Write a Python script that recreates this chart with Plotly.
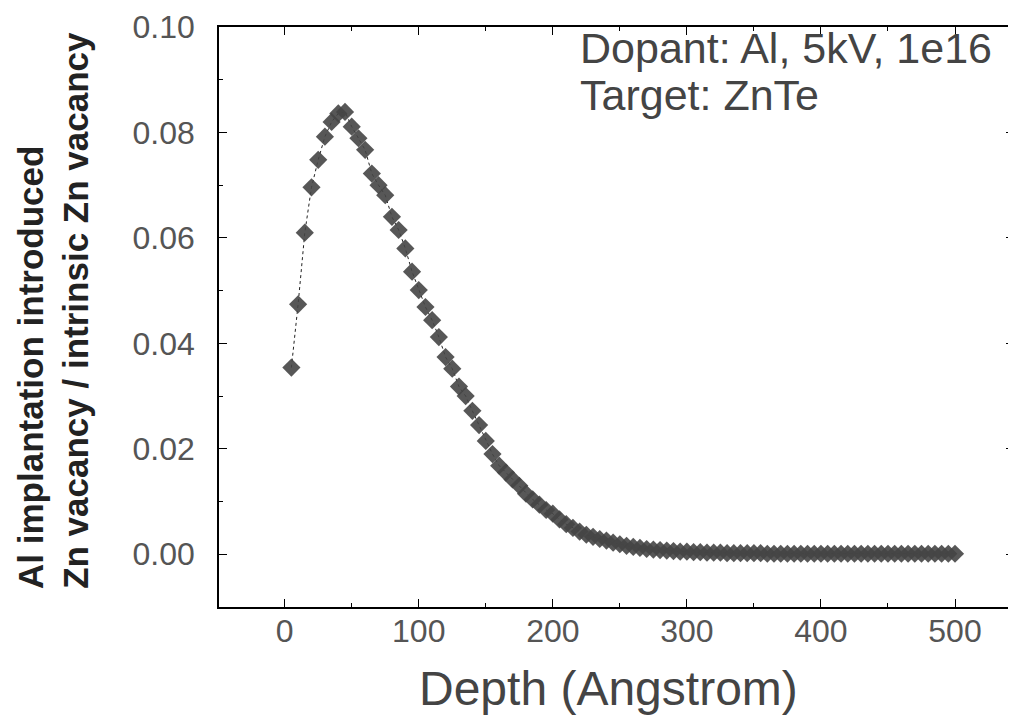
import plotly.graph_objects as go

depth = list(range(5, 505, 5))
ratio = [
    0.0354, 0.0474, 0.0610, 0.0696, 0.0748, 0.0792, 0.0820, 0.0836, 0.0839, 0.0811,
    0.0789, 0.0767, 0.0722, 0.0700, 0.0681, 0.0640, 0.0615, 0.0580, 0.0536, 0.0501,
    0.0469, 0.0444, 0.0412, 0.0374, 0.0352, 0.0318, 0.0300, 0.0272, 0.0245, 0.0215,
    0.0190, 0.0168, 0.0155, 0.0142, 0.0130, 0.0115, 0.0104, 0.0094, 0.0084, 0.0077,
    0.0066, 0.0057, 0.0050, 0.0043, 0.0037, 0.0033, 0.0029, 0.0026, 0.0022, 0.0019,
    0.0016, 0.0014, 0.0012, 0.0010, 0.0009, 0.0008, 0.0007, 0.0006, 0.0005, 0.0005,
    0.0004, 0.0004, 0.0003, 0.0003, 0.0003, 0.0002, 0.0002, 0.0002, 0.0002, 0.0002,
    0.0002, 0.0001, 0.0001, 0.0001, 0.0001, 0.0001, 0.0001, 0.0001, 0.0001, 0.0001,
    0.0001, 0.0001, 0.0001, 0.0001, 0.0001, 0.0001, 0.0001, 0.0001, 0.0001, 0.0001,
    0.0001, 0.0001, 0.0001, 0.0001, 0.0001, 0.0001, 0.0001, 0.0001, 0.0001, 0.0001,
]
x_ticks = [0, 100, 200, 300, 400, 500]
y_ticks = [0.00, 0.02, 0.04, 0.06, 0.08, 0.10]
y_ticklabels = ["0.00", "0.02", "0.04", "0.06", "0.08", "0.10"]

fig = go.Figure()
fig.add_trace(go.Scatter(
    x=depth, y=ratio, mode="lines+markers",
    line=dict(color="#222222", width=1, dash="dot"),
    marker=dict(symbol="diamond", size=14, color="#454545", opacity=0.9,
                line=dict(width=0)),
    showlegend=False,
))

# page body has an 8px offset; plot area spans x 219..1016, y 27..607 on the page
tick_font = dict(family="Liberation Sans", size=32, color="#555555")
fig.update_layout(
    width=1008, height=715,
    margin=dict(l=211, r=0, t=19, b=116),
    paper_bgcolor="white", plot_bgcolor="white",
    xaxis=dict(
        range=[-49, 544], tickvals=x_ticks, ticktext=[str(v) for v in x_ticks],
        ticks="inside", ticklen=8, tickwidth=1.2, tickcolor="black",
        minor=dict(dtick=50, tick0=0, ticks="inside", ticklen=4, tickcolor="black"),
        showline=True, linecolor="black", linewidth=1.5, mirror="allticks",
        showgrid=False, zeroline=False, tickfont=tick_font, ticklabelstandoff=-5,
    ),
    yaxis=dict(
        range=[-0.01, 0.10], tickvals=y_ticks, ticktext=y_ticklabels,
        ticks="inside", ticklen=8, tickwidth=1.2, tickcolor="black",
        minor=dict(dtick=0.01, tick0=0, ticks="inside", ticklen=4, tickcolor="black"),
        showline=True, linecolor="black", linewidth=1.5, mirror="allticks",
        showgrid=False, zeroline=False, tickfont=tick_font, ticklabelstandoff=16,
    ),
)

ann_font = dict(family="Liberation Sans", size=43, color="#444444")
fig.add_annotation(text="Dopant: Al, 5kV, 1e16", xref="paper", yref="paper",
                   x=(579 - 219) / 797, y=(607 - 48) / 580, xanchor="left", yanchor="middle",
                   showarrow=False, font=ann_font)
fig.add_annotation(text="Target: ZnTe", xref="paper", yref="paper",
                   x=(579 - 219) / 797, y=(607 - 95) / 580, xanchor="left", yanchor="middle",
                   showarrow=False, font=ann_font)
fig.add_annotation(text="Depth (Angstrom)", xref="paper", yref="paper",
                   x=(609 - 219) / 797, y=(607 - 688) / 580, xanchor="center", yanchor="middle",
                   showarrow=False, font=dict(family="Liberation Sans", size=48, color="#444444"))

ytitle_font = dict(family="Liberation Sans", size=35, color="#222222", weight="bold")
fig.add_annotation(text="Al implantation introduced", xref="paper", yref="paper",
                   x=(30 - 219) / 797, y=(607 - 591) / 580, xanchor="center", yanchor="bottom",
                   textangle=-90, showarrow=False, font=ytitle_font)
fig.add_annotation(text="Zn vacancy / intrinsic Zn vacancy", xref="paper", yref="paper",
                   x=(75 - 219) / 797, y=(607 - 591) / 580, xanchor="center", yanchor="bottom",
                   textangle=-90, showarrow=False, font=ytitle_font)

fig.write_html("out.html")
